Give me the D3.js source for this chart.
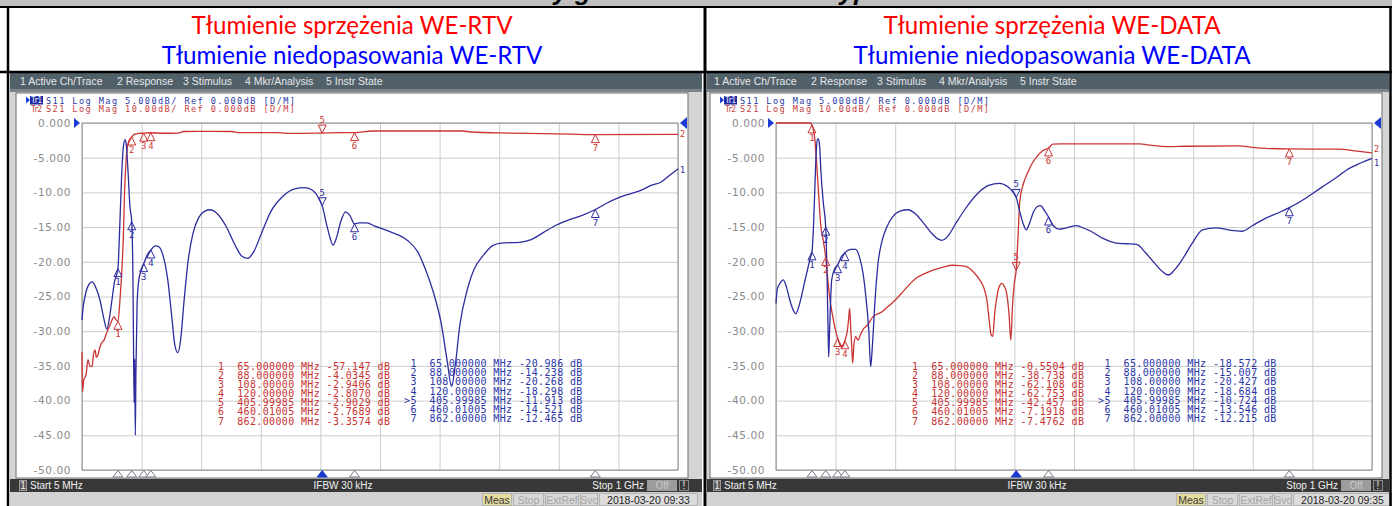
<!DOCTYPE html>
<html>
<head>
<meta charset="utf-8">
<script src="https://cdn.jsdelivr.net/npm/d3@7"></script>
<style>
body { margin: 0; background: #fff; }
svg { display: block; }
</style>
</head>
<body>
<div id="chart"></div>
<script>
// ---- data ----
const yTickLabels = ["0.000", "-5.000", "-10.00", "-15.00", "-20.00", "-25.00", "-30.00", "-35.00", "-40.00", "-45.00", "-50.00"];
const menuLabels = ["1 Active Ch/Trace", "2 Response", "3 Stimulus", "4 Mkr/Analysis", "5 Instr State"];
const markerFreqs = [65, 88, 108, 120, 405.99985, 460.01005, 862];
const markerFreqLabels = ["65.000000", "88.000000", "108.00000", "120.00000", "405.99985", "460.01005", "862.00000"];

// WE-RTV
const rtvS21Markers = [-57.147, -4.0345, -2.9406, -2.8070, -2.9029, -2.7689, -3.3574];
const rtvS11Markers = [-20.986, -14.238, -20.268, -18.298, -11.913, -14.521, -12.465];
// WE-DATA
const dataS21Markers = [-0.5504, -38.738, -62.108, -62.753, -42.457, -7.1918, -7.4762];
const dataS11Markers = [-18.572, -15.007, -20.427, -18.684, -10.724, -13.546, -12.215];

// traces: [MHz, dB]
const rtvS11 = [[5,-28.4],[7,-26.5],[10,-25],[15,-23.5],[22,-22.9],[28,-23.7],[35,-25.5],[41,-28],[46.5,-29.7],[51,-28],[55,-25.5],[59,-23],[65,-20.99],[68,-15],[71,-8],[74,-3.5],[77,-2.4],[79,-3.2],[82,-7.2],[85,-12],[88,-14.24],[90,-22],[91,-32],[92,-40.3],[93,-34],[94,-45],[95,-36],[97,-26],[100,-22.5],[104,-21.2],[108,-20.27],[114,-19],[120,-18.3],[127,-17.7],[133,-17.8],[140,-19],[148,-22.5],[155,-28],[160,-32],[165,-33.1],[170,-31],[175,-26],[182,-20],[190,-16],[200,-13.6],[210,-12.7],[219,-12.5],[230,-13],[245,-14.8],[260,-17.5],[272,-19.2],[282,-19.5],[292,-18.5],[305,-15.8],[320,-12.8],[340,-10.6],[360,-9.5],[377,-9.3],[390,-9.7],[400,-10.8],[406,-11.91],[413,-14.5],[419,-16.5],[424,-17.6],[430,-16.5],[437,-14.2],[445,-12.8],[452,-13.3],[460,-14.52],[468,-14.4],[480,-14.4],[495,-14.9],[520,-15.7],[548,-16.9],[565,-18.5],[578,-21],[592,-24.5],[605,-29],[615,-34.5],[622,-38],[628,-35],[636,-29],[648,-24.1],[660,-21],[673,-19.3],[690,-17.7],[705,-17.3],[735,-17.2],[755,-16.8],[775,-15.8],[797,-14.7],[820,-13.9],[840,-13.3],[862,-12.47],[880,-11.6],[900,-10.8],[920,-10.2],[938,-9.7],[955,-9],[972,-8.5],[985,-7.6],[1000,-6.6]];
const rtvS21 = [[5,-66],[5.6,-77.5],[8,-74],[11.7,-72.6],[15,-68.2],[18,-70],[21.7,-70.2],[24,-67],[26.7,-65.4],[29,-67.5],[31.7,-66.8],[35,-64.5],[38.4,-63.2],[42,-62.5],[46.7,-60.2],[51,-58.5],[55,-56.8],[58.4,-55.8],[61,-56.5],[65,-57.15],[68.4,-51],[71.8,-41.4],[74,-33],[76,-20],[78.5,-11],[81.8,-6],[85,-4.6],[88,-4.03],[92,-3.3],[100,-3.0],[108,-2.94],[120,-2.81],[140,-2.95],[165,-2.9],[175,-2.45],[200,-2.4],[255,-2.45],[268,-2.75],[330,-2.8],[355,-3.0],[406,-2.9],[440,-2.8],[460,-2.77],[490,-2.3],[640,-2.3],[655,-2.6],[720,-2.9],[820,-3.2],[862,-3.36],[1000,-3.3]];
const dataS11 = [[5,-26],[7,-24],[11,-23.2],[17,-22.6],[22,-23.5],[28,-25.5],[34,-27],[38,-27.5],[43,-26.5],[48,-24.8],[53,-22.8],[58,-21],[62,-19.5],[65,-18.57],[68,-14],[70,-9],[72,-4.5],[74,-2.4],[76,-2.3],[78,-3.5],[80,-7],[84,-11.5],[88,-15.0],[90,-21],[92,-30],[93,-33.7],[94,-31],[96,-26],[98,-22.6],[103,-21],[108,-20.43],[114,-19.3],[120,-18.68],[130,-18.2],[138,-18.2],[145,-19.5],[150,-21.5],[155,-25],[160,-30],[163,-35.1],[166,-32],[170,-26],[175,-20.5],[182,-17],[190,-15],[200,-13.5],[212,-12.7],[225,-12.5],[238,-13.1],[252,-14.5],[265,-15.9],[275,-16.7],[282,-16.9],[292,-16.3],[305,-14.5],[320,-12.5],[340,-10.3],[360,-9],[378,-8.7],[392,-9.2],[400,-9.9],[406,-10.72],[412,-12.8],[418,-14.6],[423,-15.4],[428,-14.5],[435,-12.8],[442,-12],[447,-11.9],[453,-12.6],[460,-13.55],[468,-14.8],[478,-15.3],[490,-15.1],[507,-14.8],[520,-15.2],[533,-15.7],[550,-16.6],[573,-17.3],[590,-17.4],[607,-17.5],[622,-18.7],[637,-20.2],[650,-21.4],[660,-21.9],[670,-21.2],[683,-19.7],[700,-17.3],[717,-15.4],[740,-15.1],[760,-15.4],[783,-15.6],[800,-14.8],[823,-13.7],[845,-12.9],[862,-12.2],[890,-10.8],[917,-9.2],[940,-7.9],[957,-6.8],[980,-5.8],[1000,-5.1]];
const dataS21 = [[5,0],[30,0],[62,0],[65,-0.55],[68,-2.5],[70,-5],[73,-12],[76,-20],[79.5,-29],[84,-34],[88,-38.74],[92,-46],[96,-52],[100,-56],[104,-59.5],[108,-62.1],[112,-64],[116,-64.6],[120,-62.75],[124,-60],[126,-57],[128,-53.4],[130,-60],[131.5,-64.6],[133,-69.2],[135,-64],[138,-61.6],[142,-62.6],[146,-61],[150,-59.6],[158,-58.2],[167,-55.8],[175,-55],[182,-54.4],[190,-53.2],[198,-52],[207,-50.5],[217,-48.6],[228,-46.5],[240,-44.6],[253,-43.4],[267,-42.4],[283,-41.6],[300,-41],[312,-41.1],[323,-41.4],[335,-43],[345,-45.2],[352,-47.5],[357,-51],[361,-57],[364,-61],[367,-61.5],[370,-55],[373,-51],[377,-47.5],[382,-46.2],[386,-47],[390,-49],[394,-55],[397,-62.6],[400,-52],[403,-46],[406,-42.46],[409,-33],[412,-22.5],[418,-17.5],[425,-14.4],[432,-11.8],[440,-9.8],[450,-8],[460,-7.19],[467,-6.1],[480,-6.0],[612,-6.0],[630,-6.4],[660,-6.8],[690,-6.7],[778,-6.6],[800,-7.0],[823,-7.3],[862,-7.48],[945,-7.55],[975,-8.1],[1000,-8.6]];

const titles = [
    {red: "Tłumienie sprzężenia WE-RTV", blue: "Tłumienie niedopasowania WE-RTV", cx: 352},
    {red: "Tłumienie sprzężenia WE-DATA", blue: "Tłumienie niedopasowania WE-DATA", cx: 1052}
];

const W = 1392, H = 506;
const mono = "'DejaVu Sans Mono', monospace";
const sans = "'Liberation Sans', Arial, sans-serif";
const RED = "#cc3434", BLUE = "#2c2c9e";

const svg = d3.select("#chart").append("svg")
    .attr("width", W)
    .attr("height", H);

// top gray strip with the cut-off page heading (only descenders show)
svg.append("rect").attr("x", 0).attr("y", 0).attr("width", W).attr("height", 7).attr("fill", "#bfbfbf");
svg.append("text")
    .attr("x", 700).attr("y", 0)
    .attr("text-anchor", "middle")
    .style("font-family", "'Liberation Sans', sans-serif")
    .style("font-weight", "bold").style("font-style", "italic")
    .style("font-size", "26px")
    .text("Pomiary gniazd abonenckich typu WE");

// titles: size chosen so the first line has the reference width
const probe = svg.append("text").style("font-family", "Lato, 'Open Sans', sans-serif").style("font-size", "20px").text(titles[0].red);
const titleSize = 20 * 321 / probe.node().getComputedTextLength();
probe.remove();

svg.append("rect").attr("x", 0).attr("y", 8).attr("width", W).attr("height", 64).attr("fill", "#fff");
titles.forEach(t => {
    svg.append("text").attr("x", t.cx).attr("y", 33.5).attr("text-anchor", "middle")
        .style("font-family", "Lato, 'Open Sans', sans-serif").style("font-size", titleSize + "px")
        .attr("fill", "#ff0000").text(t.red);
    svg.append("text").attr("x", t.cx).attr("y", 64).attr("text-anchor", "middle")
        .style("font-family", "Lato, 'Open Sans', sans-serif").style("font-size", titleSize + "px")
        .attr("fill", "#0000ff").text(t.blue);
});

const fmtDb = v => Math.abs(v) >= 10 ? v.toFixed(3) : v.toFixed(4);

function drawScreen(ox, xl, xr, s11, s21, m11, m21, date) {
    const g = svg.append("g").attr("transform", `translate(${ox},0)`);

    // window chrome
    g.append("rect").attr("x", xl).attr("y", 73).attr("width", xr - xl).attr("height", H - 73).attr("fill", "#d4d4d4");
    g.append("rect").attr("x", xl).attr("y", 73).attr("width", xr - xl).attr("height", 16).attr("fill", "#52606a");
    g.append("rect").attr("x", xl).attr("y", 89).attr("width", xr - xl).attr("height", 3).attr("fill", "#7c8288");
    const menuX = [20, 117, 183, 245, 326];
    menuLabels.forEach((m, i) => {
        g.append("text").attr("x", menuX[i]).attr("y", 85)
            .style("font-family", sans).style("font-size", "10.5px")
            .attr("fill", "#e4e8ea").text(m);
    });

    g.append("rect").attr("x", 16).attr("y", 93).attr("width", 672).attr("height", 385)
        .attr("fill", "#fff").attr("stroke", "#6c6c6c");

    // scales
    const x = d3.scaleLinear().domain([5, 1000]).range([82, 678]);
    const y11 = d3.scaleLinear().domain([-50, 0]).range([470, 123]);
    const y21 = d3.scaleLinear().domain([-100, 0]).range([470, 123]);

    // horizontal grid + labels
    const yAxis = g.append("g").attr("transform", "translate(82,0)")
        .call(d3.axisLeft(y11)
            .tickValues(d3.range(0, -55, -5))
            .tickSize(-596)
            .tickPadding(11)
            .tickFormat((d, i) => yTickLabels[i]));
    yAxis.select(".domain").remove();
    yAxis.selectAll("line").attr("stroke", "#cdcdcd");
    yAxis.selectAll("text")
        .style("font-family", "'DejaVu Sans', Verdana, sans-serif")
        .style("font-size", "10.5px")
        .style("letter-spacing", "0.6px")
        .attr("fill", "#8a8a8a");

    // vertical grid, 10 divisions
    const xAxis = g.append("g").attr("transform", "translate(0,470)")
        .call(d3.axisBottom(x)
            .tickValues(d3.range(11).map(k => 5 + k * 99.5))
            .tickSize(-347)
            .tickFormat(""));
    xAxis.select(".domain").remove();
    xAxis.selectAll("line").attr("stroke", "#cdcdcd");

    g.append("rect").attr("x", 82).attr("y", 123).attr("width", 596).attr("height", 347)
        .attr("fill", "none").attr("stroke", "#8c8c8c");

    // traces
    const line21 = d3.line().x(d => x(d[0])).y(d => y21(d[1])).curve(d3.curveMonotoneX);
    const line11 = d3.line().x(d => x(d[0])).y(d => y11(d[1])).curve(d3.curveMonotoneX);
    g.append("path").datum(s21).attr("d", line21).attr("fill", "none").attr("stroke", RED).attr("stroke-width", 1.3);
    g.append("path").datum(s11).attr("d", line11).attr("fill", "none").attr("stroke", BLUE).attr("stroke-width", 1.3);

    // markers on the traces, marker 5 is active
    function drawMarkers(vals, yScale, color) {
        vals.forEach((v, i) => {
            const px = x(markerFreqs[i]), py = yScale(v);
            const up = i !== 4;
            const dy = up ? 8 : -8;
            g.append("path")
                .attr("d", `M${px},${py}L${px - 4},${py + dy}L${px + 4},${py + dy}Z`)
                .attr("fill", "none").attr("stroke", color).attr("stroke-width", 1);
            g.append("text").attr("x", px).attr("y", up ? py + 16 : py - 10)
                .attr("text-anchor", "middle")
                .style("font-family", mono).style("font-size", "9px")
                .attr("fill", color).text(i + 1);
        });
    }
    drawMarkers(m21, y21, RED);
    drawMarkers(m11, y11, BLUE);

    // marker position indicators along the bottom
    markerFreqs.forEach((f, i) => {
        const px = x(f);
        g.append("path")
            .attr("d", `M${px},470.5L${px - 5},477L${px + 5},477Z`)
            .attr("fill", i === 4 ? "#1b3bcf" : "#fff")
            .attr("stroke", i === 4 ? "#1b3bcf" : "#7a7a8a");
    });

    // reference position arrows
    g.append("path").attr("d", "M74,118L80,123L74,128Z").attr("fill", "#1b3bd8");
    g.append("path").attr("d", "M687,117L680,123L687,129Z").attr("fill", "#1b3bd8");

    // trace end labels, kept apart when the two ends meet
    const e21 = y21(s21[s21.length - 1][1]), e11 = y11(s11[s11.length - 1][1]);
    const apart = Math.abs(e21 - e11) < 9;
    g.append("text").attr("x", 680).attr("y", apart ? e21 - 0.5 : e21 + 3)
        .style("font-family", mono).style("font-size", "8.5px").attr("fill", RED).text("2");
    g.append("text").attr("x", 680).attr("y", apart ? e11 + 7.5 : e11 + 4)
        .style("font-family", mono).style("font-size", "8.5px").attr("fill", BLUE).text("1");

    // trace header lines
    g.append("path").attr("d", "M26,96.5L30,100L26,103.5Z").attr("fill", "#1b3bd8");
    g.append("rect").attr("x", 30).attr("y", 96).attr("width", 13).attr("height", 8.5).attr("fill", "#1e2c9e");
    g.append("text").attr("x", 31).attr("y", 103).attr("textLength", 11)
        .style("font-family", mono).style("font-size", "8px").attr("fill", "#e8ecff").text("Tr1");
    g.append("text").attr("x", 46).attr("y", 103.5).attr("textLength", 249)
        .style("font-family", mono).style("font-size", "8.6px").style("white-space", "pre")
        .attr("fill", "#2838a6").text("S11 Log Mag 5.000dB/ Ref 0.000dB [D/M]");
    g.append("text").attr("x", 31).attr("y", 112).attr("textLength", 11)
        .style("font-family", mono).style("font-size", "8px").attr("fill", "#c84040").text("Tr2");
    g.append("text").attr("x", 46).attr("y", 112).attr("textLength", 249)
        .style("font-family", mono).style("font-size", "8.6px").style("white-space", "pre")
        .attr("fill", "#c84040").text("S21 Log Mag 10.00dB/ Ref 0.000dB [D/M]");

    // marker tables
    const cw = 6.37;
    m21.forEach((v, i) => {
        const s = ` ${i + 1}  ${markerFreqLabels[i]} MHz ${fmtDb(v)} dB`;
        g.append("text").attr("x", 218 - cw).attr("y", 369.5 + i * 9.17)
            .attr("textLength", s.length * cw)
            .style("font-family", mono).style("font-size", "10px").style("white-space", "pre")
            .attr("fill", "#c83232").text(s);
    });
    m11.forEach((v, i) => {
        const s = `${i === 4 ? ">" : " "}${i + 1}  ${markerFreqLabels[i]} MHz ${fmtDb(v)} dB`;
        g.append("text").attr("x", 404).attr("y", 367 + i * 9.17)
            .attr("textLength", s.length * cw)
            .style("font-family", mono).style("font-size", "10px").style("white-space", "pre")
            .attr("fill", "#2a36a8").text(s);
    });

    // bottom channel bar
    g.append("rect").attr("x", xl).attr("y", 479).attr("width", xr - xl).attr("height", 13).attr("fill", "#383838");
    g.append("rect").attr("x", 19.5).attr("y", 480.5).attr("width", 7).attr("height", 10)
        .attr("fill", "#5a5a5a").attr("stroke", "#9a9a9a");
    const barText = (tx, anchor, str, col) => g.append("text").attr("x", tx).attr("y", 489)
        .attr("text-anchor", anchor).style("font-family", sans).style("font-size", "10px")
        .attr("fill", col || "#f0f0f0").text(str);
    barText(23, "middle", "1");
    barText(30, "start", "Start 5 MHz");
    barText(343, "middle", "IFBW 30 kHz");
    barText(644, "end", "Stop 1 GHz");
    g.append("rect").attr("x", 647).attr("y", 480).attr("width", 30).attr("height", 11).attr("fill", "#9c9c9c");
    barText(662, "middle", "Off", "#c8c8c8");
    g.append("rect").attr("x", 679.5).attr("y", 480.5).attr("width", 9).attr("height", 10)
        .attr("fill", "#3a3a3a").attr("stroke", "#8a8a8a");
    barText(684, "middle", "!");

    // status bar
    g.append("rect").attr("x", xl).attr("y", 492).attr("width", xr - xl).attr("height", H - 492).attr("fill", "#d2d2d2");
    const statusItems = [
        {x0: 482, x1: 511, t: "Meas", bg: "#e6dc9e", c: "#3a3a3a"},
        {x0: 513, x1: 543, t: "Stop", bg: "#d8d8d8", c: "#a6a6a6"},
        {x0: 545, x1: 578, t: "ExtRef", bg: "#d8d8d8", c: "#a6a6a6"},
        {x0: 580, x1: 597, t: "Svc", bg: "#d8d8d8", c: "#a6a6a6"},
        {x0: 599, x1: 697, t: date, bg: "#dcdcdc", c: "#262626"}
    ];
    statusItems.forEach(s => {
        g.append("rect").attr("x", s.x0 + 0.5).attr("y", 493.5).attr("width", s.x1 - s.x0).attr("height", 12)
            .attr("fill", s.bg).attr("stroke", "#b4b4b4");
        g.append("text").attr("x", (s.x0 + s.x1) / 2 + 0.5).attr("y", 503.5).attr("text-anchor", "middle")
            .style("font-family", sans).style("font-size", "10.5px").attr("fill", s.c).text(s.t);
    });
}

drawScreen(0, 10, 702, rtvS11, rtvS21, rtvS11Markers, rtvS21Markers, "2018-03-20 09:33");
drawScreen(694, 13, 695, dataS11, dataS21, dataS11Markers, dataS21Markers, "2018-03-20 09:35");

// table borders
const border = (x1, y1, x2, y2, w) => svg.append("line")
    .attr("x1", x1).attr("y1", y1).attr("x2", x2).attr("y2", y2)
    .attr("stroke", "#000").attr("stroke-width", w);
border(0, 7, W, 7, 2);
border(0, 72, W, 72, 2.5);
border(8, 6, 8, H, 2.5);
border(705, 6, 705, H, 3);
border(1390.5, 6, 1390.5, H, 2.5);
</script>
</body>
</html>
